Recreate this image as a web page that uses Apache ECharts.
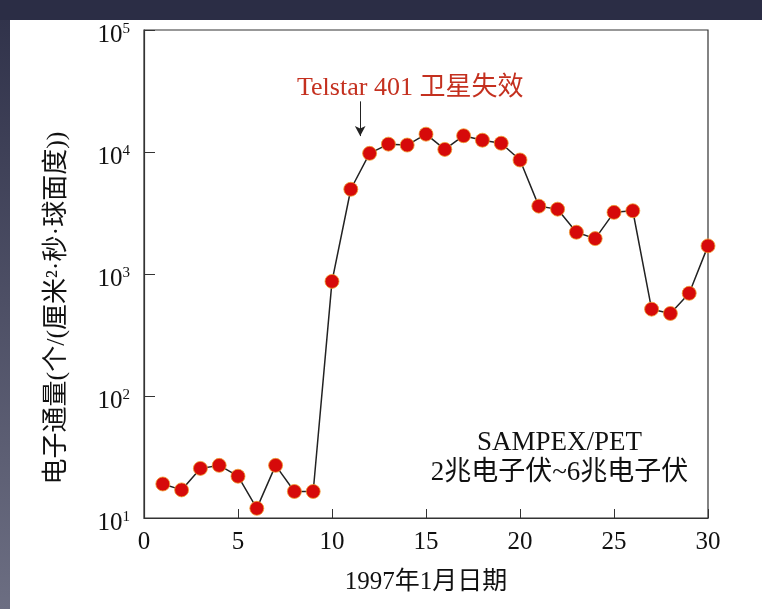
<!DOCTYPE html>
<html>
<head>
<meta charset="utf-8">
<script src="https://cdn.jsdelivr.net/npm/echarts@6/dist/echarts.min.js"></script>
<style>
html,body{margin:0;padding:0;background:#2d2f47;}
#main{width:762px;height:609px;
  background:
    linear-gradient(#2b2d45,#2b2d45) left top / 100% 20px no-repeat,
    linear-gradient(#2f3149,#6c6e82) left top / 10px 100% no-repeat,
    #ffffff;}
</style>
</head>
<body>
<div id="main"></div>
<script>
var days = [1,2,3,4,5,6,7,8,9,10,11,12,13,14,15,16,17,18,19,20,21,22,23,24,25,26,27,28,29,30];
var flux = [19,17,25.5,27,22,12,27,16.5,16.5,870,4950,9750,11600,11400,14000,10500,13600,12500,11800,8600,3600,3400,2200,1950,3200,3300,515,475,695,1700];
var yTickExp = {10:'1',100:'2',1000:'3',10000:'4',100000:'5'};
var xTitle = '1997年1月日期';
var yTitle = '电子通量(个/(厘米²·秒·球面度))';
var annotation = 'Telstar 401 卫星失效';
var annotationDay = 11.5;
var boxLines = ['SAMPEX/PET','2兆电子伏~6兆电子伏'];

var serif = '"Liberation Serif","Noto Sans CJK SC",serif';
var chart = echarts.init(document.getElementById('main'));
var points = days.map(function(d,i){return [d, flux[i]];});

var option = {
  backgroundColor: 'transparent',
  animation: false,
  grid: {left:144, top:30, right:54, bottom:91, show:true, borderColor:'#333', borderWidth:1.2, backgroundColor:'#fff'},
  xAxis: {
    type:'value', min:0, max:30, interval:5,
    axisLine:{show:true, lineStyle:{color:'#333', width:1.2}},
    axisTick:{show:true, inside:true, length:9, lineStyle:{color:'#333'}},
    axisLabel:{fontFamily:serif, fontSize:25, color:'#111', margin:12},
    splitLine:{show:false}
  },
  yAxis: {
    type:'log', logBase:10, min:10, max:100000,
    axisLine:{show:true, lineStyle:{color:'#333', width:1.2}},
    axisTick:{show:true, inside:true, length:11, lineStyle:{color:'#333'}},
    minorTick:{show:false},
    axisLabel:{
      margin:14, padding:[10,0,0,0],
      formatter:function(v){var e = yTickExp[Math.round(v)]; return '{b|10}{s|'+e+'}';},
      rich:{b:{fontFamily:serif, fontSize:25, color:'#111'}, s:{fontFamily:serif, fontSize:15, color:'#111', verticalAlign:'top', padding:[0,0,12,0]}}
    },
    splitLine:{show:false}
  },
  series: [{
    type:'line',
    data: points,
    symbol:'circle', symbolSize:14,
    lineStyle:{color:'#222', width:1.5},
    itemStyle:{color:'#d60a0a', borderColor:'#f0a030', borderWidth:0.8},
    z:3,
    markLine:{
      silent:true, symbol:['none','arrow'], symbolSize:[8,10],
      lineStyle:{color:'#222', width:1, type:'solid'},
      label:{show:false},
      data:[[{coord:[annotationDay, 26000]},{coord:[annotationDay, 13500]}]]
    }
  }]
};
chart.setOption(option);

var pa = chart.convertToPixel({gridIndex:0},[annotationDay, 33500]);
var p1 = chart.convertToPixel({gridIndex:0},[22.1, 41]);
var p2 = chart.convertToPixel({gridIndex:0},[22.1, 23.4]);
var pc = chart.convertToPixel({gridIndex:0},[15, 10]);
chart.setOption({
  graphic: [
    {type:'text', x:pa[0]+50, y:pa[1], style:{text:annotation, font:'26px '+serif, fill:'#c4301f', align:'center', verticalAlign:'middle'}},
    {type:'text', x:p1[0], y:p1[1], style:{text:boxLines[0], font:'27px '+serif, fill:'#111', align:'center', verticalAlign:'middle'}},
    {type:'text', x:p2[0], y:p2[1], style:{text:boxLines[1], font:'27px '+serif, fill:'#111', align:'center', verticalAlign:'middle'}},
    {type:'text', x:pc[0], y:pc[1]+64, style:{text:xTitle, font:'25px '+serif, fill:'#111', align:'center', verticalAlign:'middle'}},
    {type:'text', x:57, y:308, rotation:Math.PI/2, style:{text:yTitle, font:'26px '+serif, fill:'#111', align:'center', verticalAlign:'middle'}}
  ]
});
</script>
</body>
</html>
